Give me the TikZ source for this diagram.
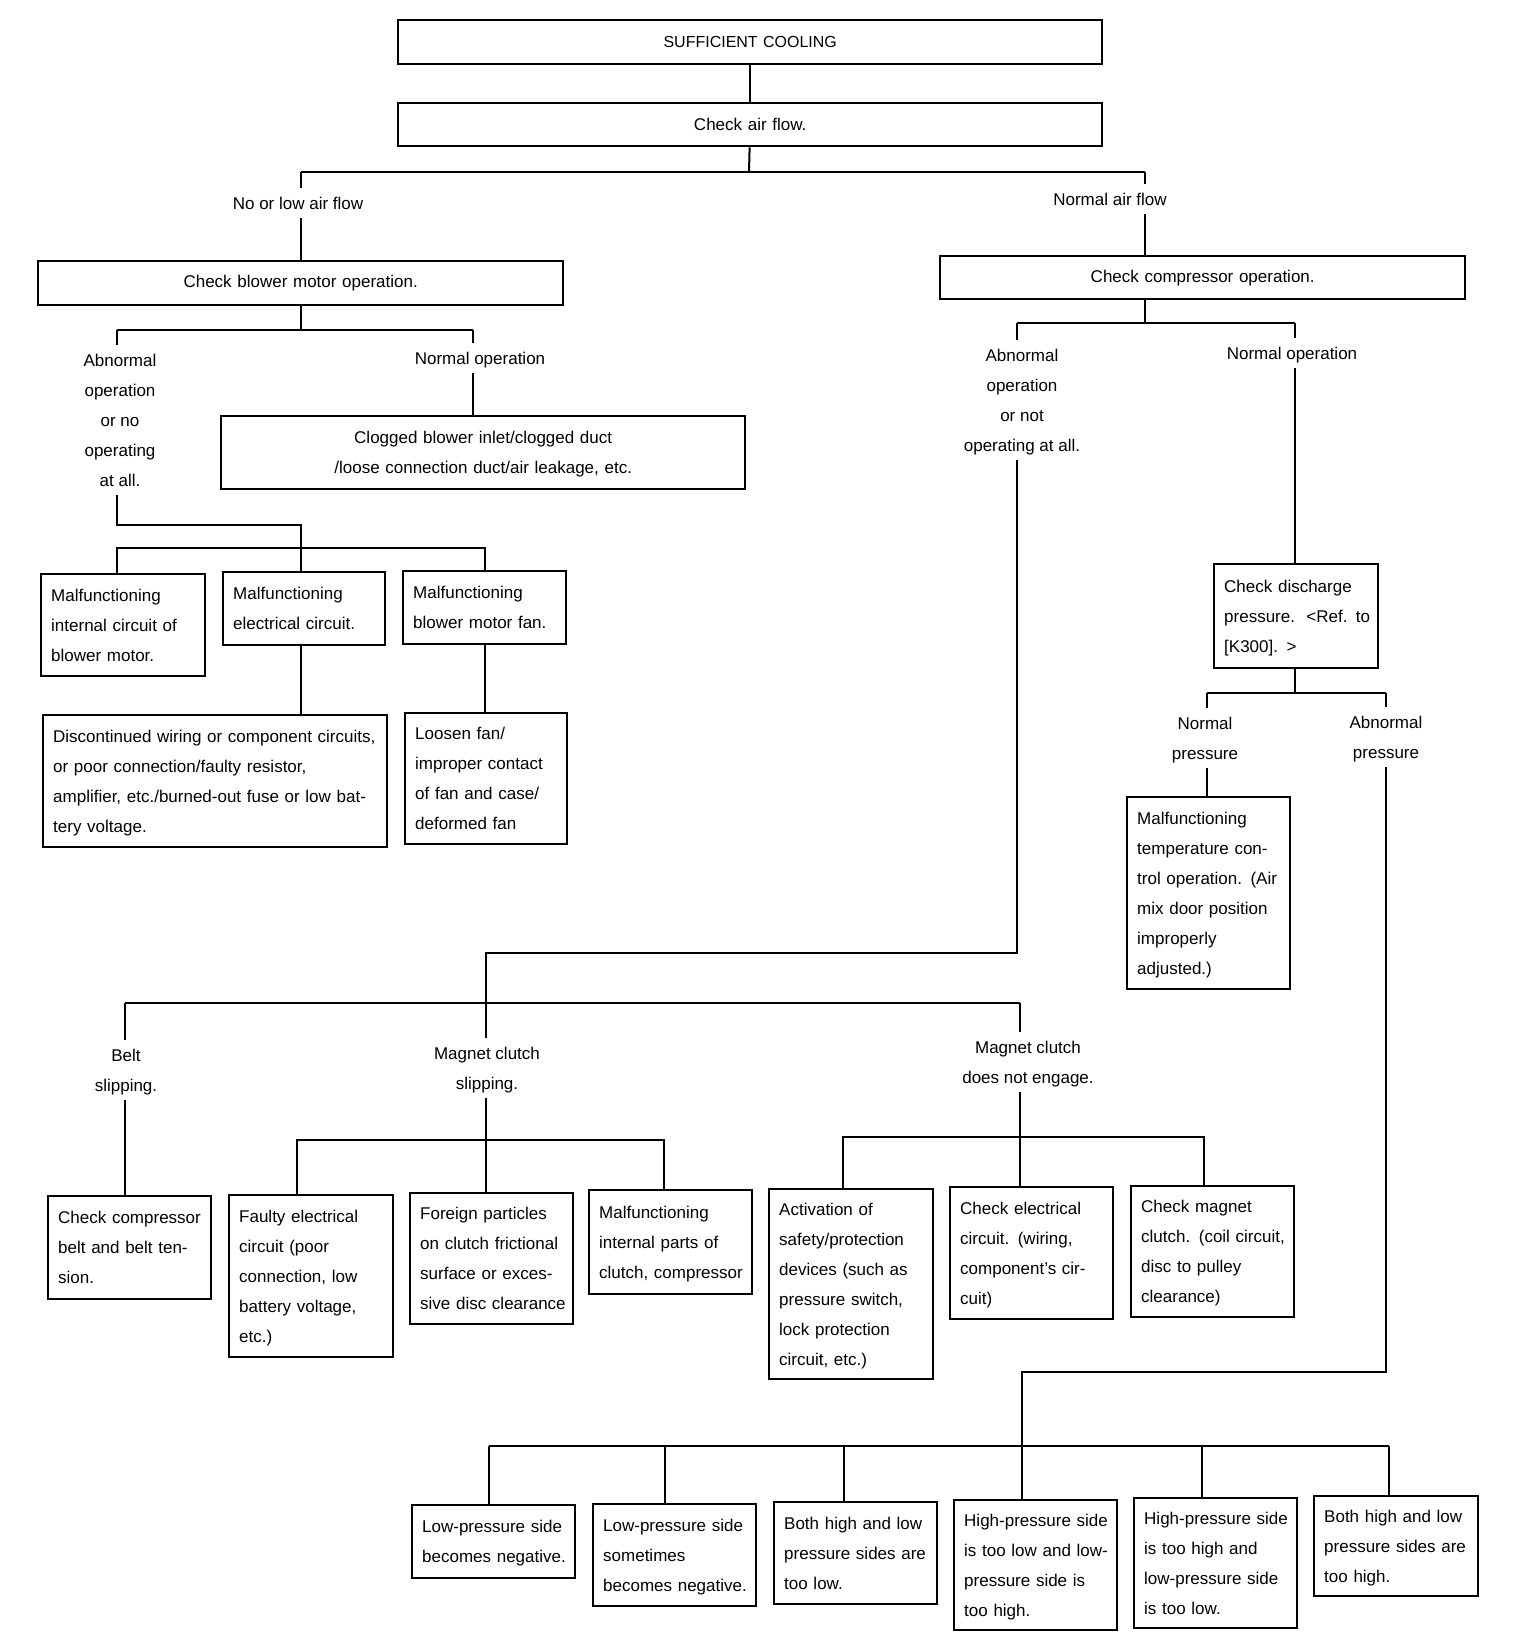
\documentclass[tikz,border=0pt]{standalone}
\usepackage{fontspec}
\setmainfont{Liberation Sans}
\newcommand\bfs{\fontsize{17}{30}\selectfont}
\newcommand\tfs{\fontsize{16}{30}\selectfont}
\newcommand\boxlines[1]{\begin{tabular}{@{}l@{}}#1\end{tabular}}
\newcommand\midlines[1]{\begin{tabular}{@{}c@{}}#1\end{tabular}}
\begin{document}
\begin{tikzpicture}[x=1pt,y=-1pt,
  box/.style={draw, line width=2.4pt, anchor=north west, inner xsep=10pt, inner ysep=0pt, font=\bfs, align=left},
  cbox/.style={box, align=center},
  lbl/.style={inner xsep=2pt, inner ysep=0pt, font=\bfs, align=center},
  conn/.style={line width=2pt}]
\fill[white] (0,0) rectangle (1520,1652);
\useasboundingbox (0,0) rectangle (1520,1652);

% top boxes
\node[cbox, text width=684pt, minimum height=44pt, font=\tfs] (top) at (397,19) {SUFFICIENT COOLING};
\node[cbox, text width=684pt, minimum height=43pt] (air) at (397,102) {Check air flow.};
\node[cbox, text width=505pt, minimum height=44pt] (blower) at (37,260) {Check blower motor operation.};
\node[cbox, text width=505pt, minimum height=43pt] (comp) at (939,255) {Check compressor operation.};
\node[cbox, text width=504pt, minimum height=73pt] (clog) at (220,415) {\midlines{Clogged blower inlet/clogged duct\\/loose connection duct/air leakage, etc.}};

% blower branch boxes
\node[box, text width=144pt, minimum height=102pt] (m1) at (40,573) {\boxlines{Malfunctioning\\internal circuit of\\blower motor.}};
\node[box, text width=142pt, minimum height=73pt] (m2) at (222,571) {\boxlines{Malfunctioning\\electrical circuit.}};
\node[box, text width=143pt, minimum height=73pt] (m3) at (402,570) {\boxlines{Malfunctioning\\blower motor fan.}};
\node[box, text width=324pt, minimum height=132pt] (disc) at (42,714) {\boxlines{Discontinued wiring or component circuits,\\or poor connection/faulty resistor,\\amplifier, etc./burned-out fuse or low bat-\\tery voltage.}};
\node[box, text width=142pt, minimum height=131pt] (loose) at (404,712) {\boxlines{Loosen fan/\\improper contact\\of fan and case/\\deformed fan}};

% discharge branch
\node[box, text width=144pt, minimum height=104pt] (disch) at (1213,563) {\boxlines{Check discharge\\pressure.\ \ <Ref. to\\{}[K300]. >}};
\node[box, text width=143pt, minimum height=192pt] (mtc) at (1126,796) {\boxlines{Malfunctioning\\temperature con-\\trol operation. (Air\\mix door position\\improperly\\adjusted.)}};

% compressor abnormal boxes
\node[box, text width=143pt, minimum height=103pt] (belt) at (47,1195) {\boxlines{Check compressor\\belt and belt ten-\\sion.}};
\node[box, text width=144pt, minimum height=162pt] (fe) at (228,1194) {\boxlines{Faulty electrical\\circuit (poor\\connection, low\\battery voltage,\\etc.)}};
\node[box, text width=143pt, minimum height=131pt] (fp) at (409,1192) {\boxlines{Foreign particles\\on clutch frictional\\surface or exces-\\sive disc clearance}};
\node[box, text width=143pt, minimum height=104pt] (mi) at (588,1189) {\boxlines{Malfunctioning\\internal parts of\\clutch, compressor}};
\node[box, text width=144pt, minimum height=190pt] (ap) at (768,1188) {\boxlines{Activation of\\safety/protection\\devices (such as\\pressure switch,\\lock protection\\circuit, etc.)}};
\node[box, text width=143pt, minimum height=132pt] (ce) at (949,1186) {\boxlines{Check electrical\\circuit. (wiring,\\component's cir-\\cuit)}};
\node[box, text width=143pt, minimum height=131pt] (cm) at (1130,1185) {\boxlines{Check magnet\\clutch. (coil circuit,\\disc to pulley\\clearance)}};

% bottom row
\node[box, text width=143pt, minimum height=73pt] (b1) at (411,1504) {\boxlines{Low-pressure side\\becomes negative.}};
\node[box, text width=143pt, minimum height=102pt] (b2) at (592,1503) {\boxlines{Low-pressure side\\sometimes\\becomes negative.}};
\node[box, text width=143pt, minimum height=102pt] (b3) at (773,1501) {\boxlines{Both high and low\\pressure sides are\\too low.}};
\node[box, text width=143pt, minimum height=130pt] (b4) at (953,1499) {\boxlines{High-pressure side\\is too low and low-\\pressure side is\\too high.}};
\node[box, text width=143pt, minimum height=130pt] (b5) at (1133,1497) {\boxlines{High-pressure side\\is too high and\\low-pressure side\\is too low.}};
\node[box, text width=144pt, minimum height=100pt] (b6) at (1313,1495) {\boxlines{Both high and low\\pressure sides are\\too high.}};

% labels
\node[lbl] (lno) at (298,203) {\midlines{No or low air flow}};
\node[lbl] (lnorm) at (1110,199) {\midlines{Normal air flow}};
\node[lbl] (labl) at (120,420) {\midlines{Abnormal\\operation\\or no\\operating\\at all.}};
\node[lbl] (lnop) at (480,358) {\midlines{Normal operation}};
\node[lbl] (labr) at (1022,400) {\midlines{Abnormal\\operation\\or not\\operating at all.}};
\node[lbl] (lnopr) at (1292,353) {\midlines{Normal operation}};
\node[lbl] (lnp) at (1205,738) {\midlines{Normal\\pressure}};
\node[lbl] (lap) at (1386,737) {\midlines{Abnormal\\pressure}};
\node[lbl] (lbelt) at (126,1070) {\midlines{Belt\\slipping.}};
\node[lbl] (lmcs) at (487,1068) {\midlines{Magnet clutch\\slipping.}};
\node[lbl] (lmcn) at (1028,1062) {\midlines{Magnet clutch\\does not engage.}};

% top connectors
\coordinate (j0) at (749,172);
\coordinate (jl) at (301,172);
\coordinate (jr) at (1145,172);
\draw[conn] (top) -- (air);
\draw[conn] (air) -- (j0);
\draw[conn] (jl) -- (jr);
\draw[conn] (jl) -- (jl |- lno.north);
\draw[conn] (jl |- lno.south) -- (jl |- blower.north);
\draw[conn] (jr) -- (jr |- lnorm.north);
\draw[conn] (jr |- lnorm.south) -- (jr |- comp.north);

% blower subtree
\coordinate (b0) at (301,330);
\coordinate (bl) at (117,330);
\coordinate (br) at (473,330);
\draw[conn] (blower.south -| b0) -- (b0);
\draw[conn] (bl) -- (br);
\draw[conn] (bl) -- (bl |- labl.north);
\draw[conn] (br) -- (br |- lnop.north);
\draw[conn] (br |- lnop.south) -- (br |- clog.north);
\coordinate (a1) at (117,525);
\coordinate (a2) at (301,525);
\draw[conn] (a1 |- labl.south) -- (a1) -- (a2) -- (a2 |- m2.north);
\coordinate (k1) at (117,548);
\coordinate (k2) at (485,548);
\draw[conn] (k1 |- m1.north) -- (k1) -- (k2) -- (k2 |- m3.north);
\draw[conn] (m2.south -| a2) -- (a2 |- disc.north);
\draw[conn] (m3.south -| k2) -- (k2 |- loose.north);

% compressor subtree
\coordinate (c0) at (1145,323);
\coordinate (cl) at (1017,323);
\coordinate (cr) at (1295,323);
\draw[conn] (comp.south -| c0) -- (c0);
\draw[conn] (cl) -- (cr);
\draw[conn] (cl) -- (cl |- labr.north);
\draw[conn] (cr) -- (cr |- lnopr.north);
\draw[conn] (cr |- lnopr.south) -- (cr |- disch.north);
\coordinate (d1) at (1017,953);
\coordinate (d2) at (486,953);
\coordinate (d3) at (486,1003);
\draw[conn] (cl |- labr.south) -- (d1) -- (d2) -- (d3);
\coordinate (e1) at (125,1003);
\coordinate (e3) at (1020,1003);
\draw[conn] (e1) -- (e3);
\draw[conn] (e1) -- (e1 |- lbelt.north);
\draw[conn] (e1 |- lbelt.south) -- (e1 |- belt.north);
\draw[conn] (d3) -- (d3 |- lmcs.north);
\draw[conn] (d3 |- lmcs.south) -- (d3 |- fp.north);
\coordinate (f1) at (297,1140);
\coordinate (f2) at (664,1140);
\draw[conn] (f1 |- fe.north) -- (f1) -- (f2) -- (f2 |- mi.north);
\draw[conn] (e3) -- (e3 |- lmcn.north);
\draw[conn] (e3 |- lmcn.south) -- (e3 |- ce.north);
\coordinate (g1) at (843,1137);
\coordinate (g2) at (1204,1137);
\draw[conn] (g1 |- ap.north) -- (g1) -- (g2) -- (g2 |- cm.north);

% discharge subtree
\coordinate (h0) at (1295,693);
\coordinate (h1) at (1207,693);
\coordinate (h2) at (1386,693);
\draw[conn] (disch.south -| h0) -- (h0);
\draw[conn] (h1) -- (h2);
\draw[conn] (h1) -- (h1 |- lnp.north);
\draw[conn] (h1 |- lnp.south) -- (h1 |- mtc.north);
\draw[conn] (h2) -- (h2 |- lap.north);
\coordinate (p1) at (1386,1372);
\coordinate (p2) at (1022,1372);
\draw[conn] (h2 |- lap.south) -- (p1) -- (p2) -- (p2 |- b4.north);
\coordinate (q1) at (489,1446);
\coordinate (q2) at (665,1446);
\coordinate (q3) at (844,1446);
\coordinate (q5) at (1202,1446);
\coordinate (q6) at (1389,1446);
\draw[conn] (q1) -- (q6);
\draw[conn] (q1) -- (q1 |- b1.north);
\draw[conn] (q2) -- (q2 |- b2.north);
\draw[conn] (q3) -- (q3 |- b3.north);
\draw[conn] (q5) -- (q5 |- b5.north);
\draw[conn] (q6) -- (q6 |- b6.north);
\end{tikzpicture}
\end{document}
